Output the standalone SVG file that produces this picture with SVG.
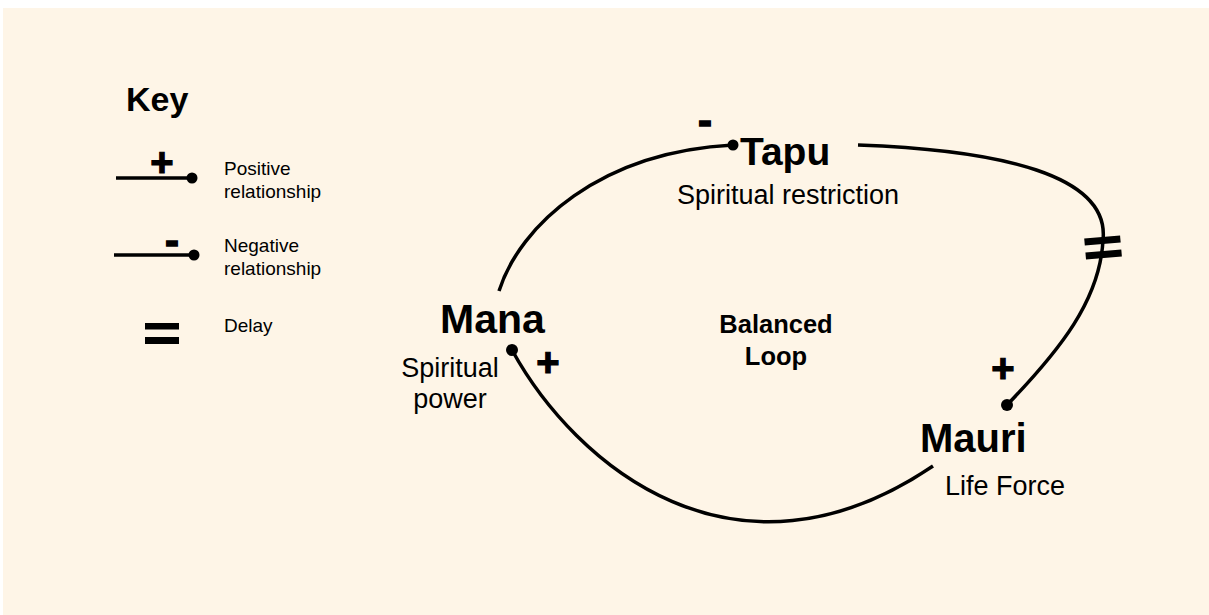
<svg xmlns="http://www.w3.org/2000/svg" width="1209" height="615" viewBox="0 0 1209 615">
<style>
.bg{fill:#FEF5E7}
.ln{fill:none;stroke:#000;stroke-width:3.5;stroke-linecap:butt}
.dot{fill:#000}
.t{font-family:"Liberation Sans",Arial,sans-serif;fill:#000}
.b{font-weight:bold}
.key{font-size:19px}
.sub{font-size:27px}
.sign{font-size:40px;font-weight:bold;text-anchor:middle;stroke:#000;stroke-width:1.2}
.minus{font-size:42px;font-weight:bold;text-anchor:middle;stroke:#000;stroke-width:1.4}
</style>
<rect x="0" y="0" width="1209" height="615" fill="#fff"/>
<rect class="bg" x="3" y="8" width="1206" height="607"/>

<g id="legend">
  <text class="t b" x="126" y="111" font-size="34">Key</text>
  <line class="ln" x1="116" y1="178" x2="192" y2="178"/>
  <circle class="dot" cx="192" cy="178" r="5.5"/>
  <text class="t sign" x="162" y="176">+</text>
  <text class="t key" x="224" y="175">Positive</text>
  <text class="t key" x="224" y="198">relationship</text>
  <line class="ln" x1="114" y1="255" x2="194" y2="255"/>
  <circle class="dot" cx="194" cy="255" r="5.5"/>
  <text class="t minus" x="172" y="255">-</text>
  <text class="t key" x="224" y="252">Negative</text>
  <text class="t key" x="224" y="275">relationship</text>
  <rect class="dot" x="145" y="323" width="34" height="6.5"/>
  <rect class="dot" x="145" y="337" width="34" height="7"/>
  <text class="t key" x="224" y="332">Delay</text>
</g>

<g id="connectors">
  <path class="ln" d="M499 291 C520 225 600 152 733 145"/>
  <path class="ln" d="M858 145 C1000 150 1110 175 1103 240 C1100 300 1060 350 1007 405"/>
  <path class="ln" d="M512 350 C575 465 735 600 933 466"/>
  <circle class="dot" cx="733" cy="145" r="5.5"/>
  <circle class="dot" cx="1007" cy="405" r="6"/>
  <circle class="dot" cx="512" cy="350" r="6"/>
  <g id="delay" transform="rotate(-5 1103 247)">
    <rect class="dot" x="1085" y="237" width="36" height="7"/>
    <rect class="dot" x="1085" y="251" width="36" height="7"/>
  </g>
  <text class="t minus" x="705" y="135">-</text>
  <text class="t sign" x="548" y="376">+</text>
  <text class="t sign" x="1003" y="382">+</text>
</g>

<g id="tapu">
  <text class="t b" x="740" y="165" font-size="39">Tapu</text>
  <text class="t sub" x="677" y="204">Spiritual restriction</text>
</g>

<g id="mana">
  <text class="t b" x="440" y="333" font-size="41">Mana</text>
  <text class="t sub" x="450" y="377" text-anchor="middle">Spiritual</text>
  <text class="t sub" x="450" y="408" text-anchor="middle">power</text>
</g>

<g id="mauri">
  <text class="t b" x="920" y="452" font-size="40">Mauri</text>
  <text class="t sub" x="945" y="495">Life Force</text>
</g>

<g id="loop">
  <text class="t b" x="776" y="333" font-size="25.5" text-anchor="middle">Balanced</text>
  <text class="t b" x="776" y="365" font-size="25.5" text-anchor="middle">Loop</text>
</g>
</svg>
